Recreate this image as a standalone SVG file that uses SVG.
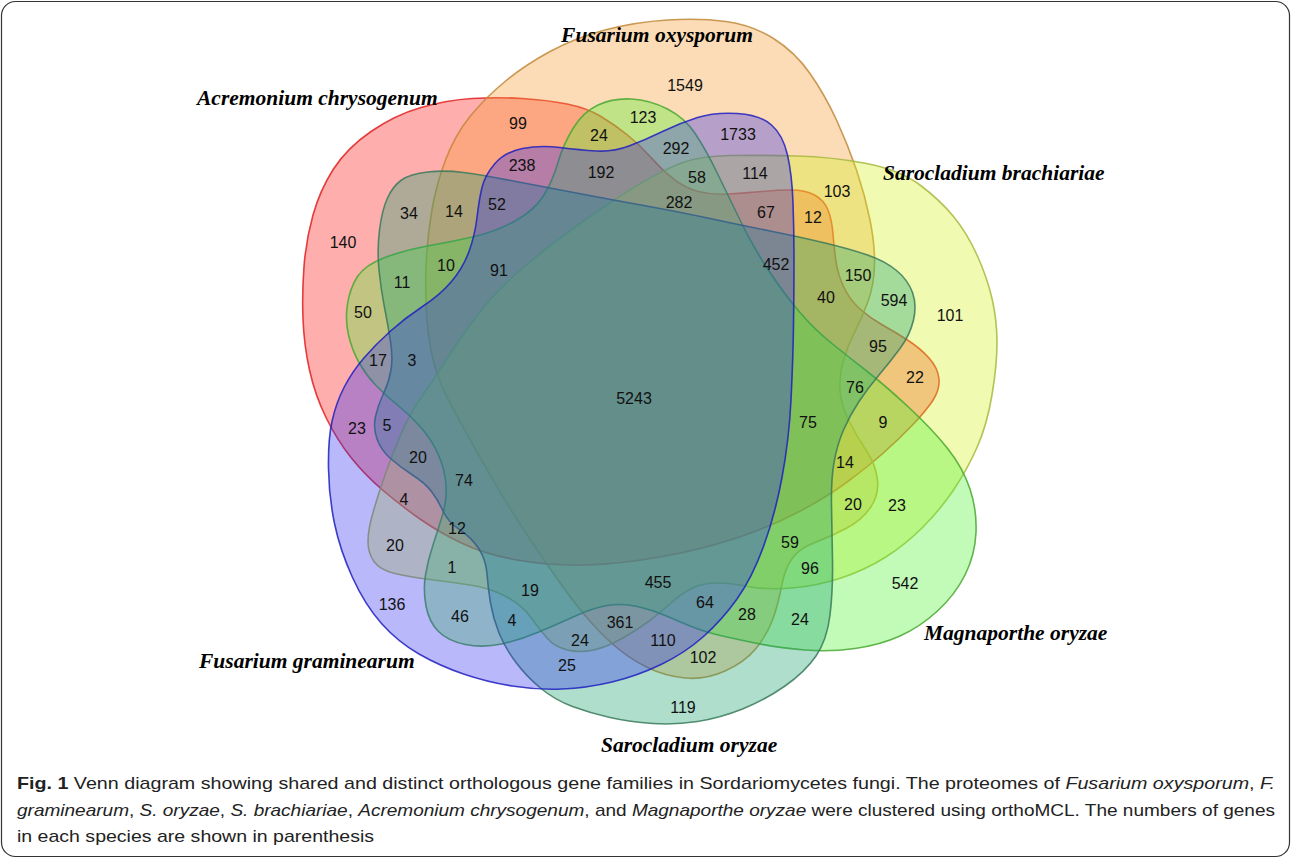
<svg xmlns="http://www.w3.org/2000/svg" width="1292" height="858" viewBox="0 0 1292 858">
<style>
.s{stroke-width:1.6;stroke-opacity:0.85}
.n{font-family:"Liberation Sans",Arial,sans-serif;font-size:16px;fill:#111;text-anchor:middle}
.lab{font-family:"Liberation Serif","Times New Roman",serif;font-size:21.5px;font-weight:bold;font-style:italic;fill:#000}
.cap{font-family:"Liberation Sans Narrow","Liberation Sans",Arial,sans-serif;font-size:17px;fill:#222}
</style>
<rect x="1.5" y="1.5" width="1288" height="855" rx="14" fill="#fff" stroke="#333" stroke-width="1.2"/>
<g id="acremonium">
<path class="s" fill="#ff2a2a" fill-opacity="0.38" stroke="#e02020" d="M 421,107.5 Q 447,100 472,98.5 Q 497,97 522,98.5 Q 547,100 567,104 Q 587,108 601,116.5 Q 615,125 627.5,135 Q 640,145 651,157.5 Q 662,170 673.5,179 Q 685,188 698.5,191.5 Q 712,195 728.5,194 Q 745,193 761.5,191.5 Q 778,190 791.5,190 Q 805,190 814.5,195 Q 824,200 828,210 Q 832,220 833,234 Q 834,248 836,261.5 Q 838,275 844,287.5 Q 850,300 860,309 Q 870,318 882.5,325 Q 895,332 907.5,340 Q 920,348 929,358 Q 938,368 939,379 Q 940,390 932.5,401 Q 925,412 912.5,425 Q 900,438 885,451.5 Q 870,465 848.5,481 Q 827,497 798.5,512 Q 770,527 735,538.5 Q 700,550 660,557 Q 620,564 586.5,565 Q 553,566 520,560.5 Q 487,555 463.5,544 Q 440,533 420,519 Q 400,505 382.5,490 Q 365,475 351,457.5 Q 337,440 326,417.5 Q 315,395 309.5,370 Q 304,345 303,319 Q 302,293 304,266.5 Q 306,240 313,215 Q 320,190 333.5,169 Q 347,148 371,131.5 Q 395,115 421,107.5 Z"/>
</g>
<g id="oxysporum">
<path class="s" fill="#f59a30" fill-opacity="0.35" stroke="#c08838" d="M 667.5,20 Q 700,18 726,21.5 Q 752,25 773.5,38.5 Q 795,52 810,73.5 Q 825,95 836.5,120 Q 848,145 856.5,170 Q 865,195 870,220 Q 875,245 874.5,265 Q 874,285 868,301.5 Q 862,318 855,331.5 Q 848,345 843.5,360 Q 839,375 840,390 Q 841,405 848.5,420 Q 856,435 866,450 Q 876,465 877.5,480 Q 879,495 870.5,507.5 Q 862,520 846,528.5 Q 830,537 815,542.5 Q 800,548 792.5,558 Q 785,568 781.5,586.5 Q 778,605 772.5,620 Q 767,635 756,648.5 Q 745,662 725,671 Q 705,680 685,678 Q 665,676 648.5,668 Q 632,660 618.5,649 Q 605,638 591.5,623 Q 578,608 563,587 Q 548,566 532.5,543 Q 517,520 502.5,496 Q 488,472 475,448.5 Q 462,425 451,405 Q 440,385 434.5,365 Q 429,345 427,320 Q 425,295 426,267.5 Q 427,240 431.5,212.5 Q 436,185 445.5,160 Q 455,135 470,116.5 Q 485,98 505,81.5 Q 525,65 550,51.5 Q 575,38 605,30 Q 635,22 667.5,20 Z"/>
</g>
<g id="brachiariae">
<path class="s" fill="#d4f020" fill-opacity="0.35" stroke="#a8b840" d="M 638,185 Q 663,170 681.5,163 Q 700,156 730,155.5 Q 760,155 796.5,156 Q 833,157 866.5,163.5 Q 900,170 920,185 Q 940,200 953.5,216.5 Q 967,233 977,255 Q 987,277 992,298.5 Q 997,320 997,342.5 Q 997,365 992,395 Q 987,425 977,447.5 Q 967,470 953.5,490 Q 940,510 922.5,527.5 Q 905,545 885,557.5 Q 865,570 841,578 Q 817,586 792,588 Q 767,590 748.5,586.5 Q 730,583 716.5,583 Q 703,583 692.5,588 Q 682,593 671,603 Q 660,613 648.5,621.5 Q 637,630 622,638.5 Q 607,647 593.5,650 Q 580,653 567.5,650 Q 555,647 547.5,638.5 Q 540,630 531,617.5 Q 522,605 506,596.5 Q 490,588 470,585 Q 450,582 430,579.5 Q 410,577 395,573.5 Q 380,570 374,561.5 Q 368,553 368,541.5 Q 368,530 373,512.5 Q 378,495 385,475 Q 392,455 401,434 Q 410,413 422.5,395.5 Q 435,378 447.5,358 Q 460,338 477.5,315 Q 495,292 521,269.5 Q 547,247 580,223.5 Q 613,200 638,185 Z"/>
</g>
<g id="magnaporthe">
<path class="s" fill="#50f030" fill-opacity="0.35" stroke="#48a830" d="M 598,105 Q 613,98 631.5,99 Q 650,100 667.5,109 Q 685,118 695.5,134 Q 706,150 716.5,171.5 Q 727,193 740,220 Q 753,247 769,271 Q 785,295 800,312.5 Q 815,330 832.5,344 Q 850,358 868.5,372.5 Q 887,387 910,408.5 Q 933,430 948,449 Q 963,468 970,489 Q 977,510 976,532.5 Q 975,555 965,575 Q 955,595 937.5,611 Q 920,627 900,636 Q 880,645 855,648.5 Q 830,652 805,650 Q 780,648 760,644 Q 740,640 722.5,636 Q 705,632 692.5,627 Q 680,622 666.5,616 Q 653,610 637.5,606.5 Q 622,603 607.5,605.5 Q 593,608 576.5,615.5 Q 560,623 540,631.5 Q 520,640 501.5,644 Q 483,648 465.5,644.5 Q 448,641 438.5,631.5 Q 429,622 426,606 Q 423,590 425.5,575 Q 428,560 433,545 Q 438,530 442.5,515 Q 447,500 446,485 Q 445,470 438.5,455 Q 432,440 421,427.5 Q 410,415 397.5,405 Q 385,395 375.5,385 Q 366,375 359,362.5 Q 352,350 348.5,335 Q 345,320 347.5,304 Q 350,288 357.5,276.5 Q 365,265 385,257.5 Q 405,250 427.5,246 Q 450,242 472.5,237 Q 495,232 515,221 Q 535,210 544,195 Q 553,180 558,162.5 Q 563,145 573,128.5 Q 583,112 598,105 Z"/>
</g>
<g id="oryzae">
<path class="s" fill="#1aa070" fill-opacity="0.35" stroke="#3a7a5a" d="M 401.5,180 Q 410,174 427.5,172 Q 445,170 463.5,172.5 Q 482,175 516,181.5 Q 550,188 581.5,194 Q 613,200 646.5,206 Q 680,212 710,218.5 Q 740,225 770,231 Q 800,237 825,243 Q 850,249 867.5,255 Q 885,261 896.5,270.5 Q 908,280 912.5,292.5 Q 917,305 913.5,320 Q 910,335 900,348.5 Q 890,362 879,375 Q 868,388 859,401.5 Q 850,415 843.5,430 Q 837,445 834,462.5 Q 831,480 831.5,505 Q 832,530 832.5,560 Q 833,590 830,615 Q 827,640 816,656 Q 805,672 785,686 Q 765,700 742.5,709 Q 720,718 697.5,721.5 Q 675,725 652.5,723.5 Q 630,722 610,717.5 Q 590,713 572.5,706.5 Q 555,700 541,688.5 Q 527,677 516,662.5 Q 505,648 499,633 Q 493,618 490.5,603 Q 488,588 487,574 Q 486,560 479,549 Q 472,538 460,530 Q 448,522 443,511 Q 438,500 431.5,491.5 Q 425,483 412.5,475 Q 400,467 390.5,458.5 Q 381,450 377,439 Q 373,428 375.5,416.5 Q 378,405 383.5,393.5 Q 389,382 391,370 Q 393,358 390.5,341.5 Q 388,325 384.5,307.5 Q 381,290 379,270 Q 377,250 379.5,230 Q 382,210 387.5,198 Q 393,186 401.5,180 Z"/>
</g>
<g id="graminearum">
<path class="s" fill="#2828f0" fill-opacity="0.33" stroke="#2020c0" d="M 482,187.5 Q 485,175 495,163.5 Q 505,152 522.5,148.5 Q 540,145 560,147.5 Q 580,150 596.5,151 Q 613,152 629,146 Q 645,140 662.5,131.5 Q 680,123 697.5,117.5 Q 715,112 737.5,113.5 Q 760,115 771.5,125 Q 783,135 787.5,155 Q 792,175 793,202.5 Q 794,230 794,260 Q 794,290 793.5,325 Q 793,360 791,400 Q 789,440 782,477.5 Q 775,515 763.5,546.5 Q 752,578 737,599 Q 722,620 703.5,636.5 Q 685,653 661,664.5 Q 637,676 612,682 Q 587,688 562,689 Q 537,690 512,686 Q 487,682 463.5,674 Q 440,666 419,654 Q 398,642 381.5,623.5 Q 365,605 352.5,577.5 Q 340,550 334.5,523.5 Q 329,497 328.5,468.5 Q 328,440 332,421.5 Q 336,403 344,387.5 Q 352,372 363.5,358.5 Q 375,345 390,331.5 Q 405,318 422.5,306.5 Q 440,295 451.5,281.5 Q 463,268 469,251.5 Q 475,235 477,217.5 Q 479,200 482,187.5 Z"/>
</g>
<g id="counts">
<text class="n" x="685" y="91">1549</text>
<text class="n" x="518" y="129">99</text>
<text class="n" x="599" y="141">24</text>
<text class="n" x="643" y="123">123</text>
<text class="n" x="738" y="140">1733</text>
<text class="n" x="522" y="171">238</text>
<text class="n" x="601" y="178">192</text>
<text class="n" x="676" y="154">292</text>
<text class="n" x="697" y="183">58</text>
<text class="n" x="755" y="179">114</text>
<text class="n" x="837" y="197">103</text>
<text class="n" x="813" y="223">12</text>
<text class="n" x="766" y="218">67</text>
<text class="n" x="679" y="208">282</text>
<text class="n" x="409" y="219">34</text>
<text class="n" x="454" y="217">14</text>
<text class="n" x="497" y="210">52</text>
<text class="n" x="343" y="248">140</text>
<text class="n" x="446" y="271">10</text>
<text class="n" x="402" y="288">11</text>
<text class="n" x="499" y="276">91</text>
<text class="n" x="776" y="270">452</text>
<text class="n" x="858" y="281">150</text>
<text class="n" x="894" y="306">594</text>
<text class="n" x="826" y="303">40</text>
<text class="n" x="950" y="321">101</text>
<text class="n" x="363" y="318">50</text>
<text class="n" x="378" y="366">17</text>
<text class="n" x="412" y="366">3</text>
<text class="n" x="878" y="352">95</text>
<text class="n" x="915" y="383">22</text>
<text class="n" x="855" y="393">76</text>
<text class="n" x="634" y="404">5243</text>
<text class="n" x="808" y="428">75</text>
<text class="n" x="883" y="428">9</text>
<text class="n" x="357" y="434">23</text>
<text class="n" x="387" y="431">5</text>
<text class="n" x="418" y="463">20</text>
<text class="n" x="464" y="486">74</text>
<text class="n" x="845" y="468">14</text>
<text class="n" x="404" y="505">4</text>
<text class="n" x="457" y="534">12</text>
<text class="n" x="853" y="510">20</text>
<text class="n" x="897" y="511">23</text>
<text class="n" x="395" y="551">20</text>
<text class="n" x="452" y="573">1</text>
<text class="n" x="790" y="548">59</text>
<text class="n" x="810" y="574">96</text>
<text class="n" x="658" y="588">455</text>
<text class="n" x="530" y="596">19</text>
<text class="n" x="392" y="610">136</text>
<text class="n" x="460" y="622">46</text>
<text class="n" x="512" y="626">4</text>
<text class="n" x="705" y="608">64</text>
<text class="n" x="747" y="620">28</text>
<text class="n" x="800" y="625">24</text>
<text class="n" x="620" y="628">361</text>
<text class="n" x="905" y="589">542</text>
<text class="n" x="580" y="646">24</text>
<text class="n" x="663" y="646">110</text>
<text class="n" x="567" y="671">25</text>
<text class="n" x="703" y="663">102</text>
<text class="n" x="683" y="713">119</text>
</g>
<g id="species-labels">
<text class="lab" x="657" y="42" text-anchor="middle">Fusarium oxysporum</text>
<text class="lab" x="197" y="105">Acremonium chrysogenum</text>
<text class="lab" x="883" y="180">Sarocladium brachiariae</text>
<text class="lab" x="924" y="640">Magnaporthe oryzae</text>
<text class="lab" x="199" y="668">Fusarium graminearum</text>
<text class="lab" x="601" y="752">Sarocladium oryzae</text>
</g>
<g id="caption">
<text class="cap" x="17" y="789" textLength="1258" lengthAdjust="spacingAndGlyphs"><tspan font-weight="bold">Fig. 1</tspan> Venn diagram showing shared and distinct orthologous gene families in Sordariomycetes fungi. The proteomes of <tspan font-style="italic">Fusarium oxysporum</tspan>, <tspan font-style="italic">F.</tspan></text>
<text class="cap" x="17" y="816" textLength="1258" lengthAdjust="spacingAndGlyphs"><tspan font-style="italic">graminearum</tspan>, <tspan font-style="italic">S. oryzae</tspan>, <tspan font-style="italic">S. brachiariae</tspan>, <tspan font-style="italic">Acremonium chrysogenum</tspan>, and <tspan font-style="italic">Magnaporthe oryzae</tspan> were clustered using orthoMCL. The numbers of genes</text>
<text class="cap" x="17" y="842" textLength="357" lengthAdjust="spacingAndGlyphs">in each species are shown in parenthesis</text>
</g>
</svg>
